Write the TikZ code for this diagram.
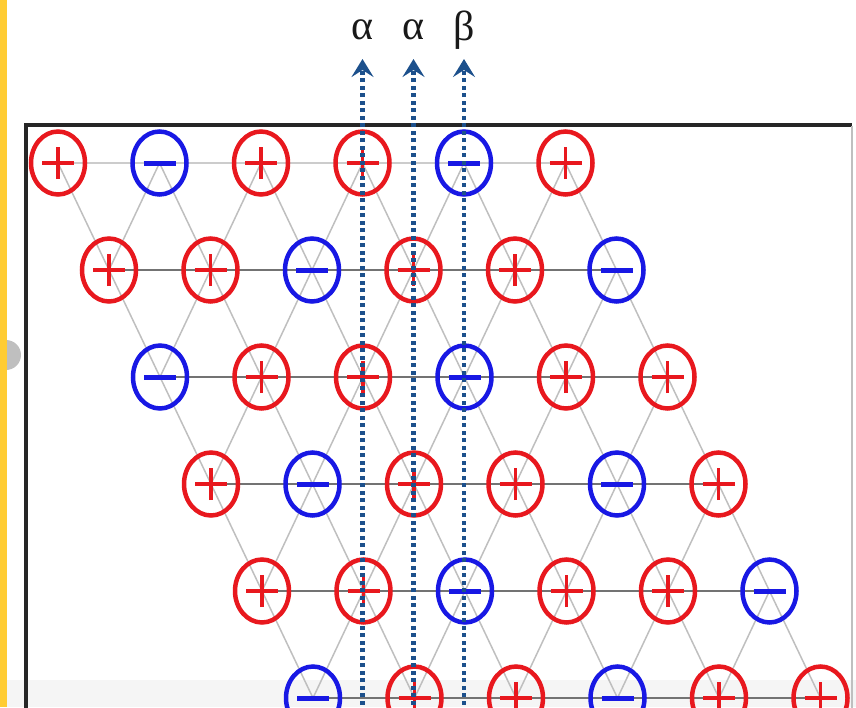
\documentclass[tikz,border=0pt]{standalone}
\usepackage{fontspec}
\setmainfont{Liberation Serif}
\usetikzlibrary{shapes.geometric,arrows.meta,backgrounds}
\definecolor{ionred}{RGB}{232,24,30}
\definecolor{ionblue}{RGB}{24,24,228}
\definecolor{beamblue}{RGB}{28,80,140}
\definecolor{tabyellow}{RGB}{255,204,51}
\tikzset{
  atom/.style={ellipse, line width=4.5pt, minimum width=54pt, minimum height=63pt, inner sep=0pt},
  atomp/.style={atom, draw=ionred,
    path picture={\draw[ionred, line width=3.8pt]
      ([xshift=-16pt]path picture bounding box.center) -- ([xshift=16pt]path picture bounding box.center)
      ([yshift=-16pt]path picture bounding box.center) -- ([yshift=16pt]path picture bounding box.center);}},
  atomm/.style={atom, draw=ionblue,
    path picture={\draw[ionblue, line width=5pt]
      ([xshift=-16pt]path picture bounding box.center) -- ([xshift=16pt]path picture bounding box.center);}},
  bond/.style={draw=black!25, line width=1.5pt},
  rowline/.style={draw=black!55, line width=2.2pt},
  beam/.style={draw=beamblue, line width=4.5pt, dash pattern=on 4pt off 3.5pt,
    -{Stealth[length=18pt,width=22pt,inset=7pt]}},
  greek/.style={font=\fontsize{42}{42}\selectfont, text=black!90, inner sep=0pt}
}
\begin{document}
\begin{tikzpicture}[x=1pt,y=-1pt]
\useasboundingbox (0,0) rectangle (856,707);
\clip (0,0) rectangle (856,707);

% lattice of ions, row by row
\foreach \r/\signs in {0/{p,m,p,p,m,p},1/{p,p,m,p,p,m},2/{m,p,p,m,p,p},
                       3/{p,m,p,p,m,p},4/{p,p,m,p,p,m},5/{m,p,p,m,p,p}}{
  \foreach \s [count=\c from 0] in \signs
    \node[atom\s] (n\r\c) at ({58+51*\r+101.5*\c},{163+107*\r}) {};
}

\begin{scope}[on background layer]
\fill[black!4] (6,680) rectangle (856,707);
\fill[black!25] (6,355) circle (15);
\fill[tabyellow] (0,0) rectangle (7,707);
% bonds
\foreach \r [evaluate=\r as \rn using int(\r+1)] in {0,...,4}{
  \foreach \c in {0,...,5}{
    \draw[bond] (n\r\c.center) -- (n\rn\c.center);
    \ifnum\c>0
      \pgfmathtruncatemacro{\cl}{\c-1}
      \draw[bond] (n\r\c.center) -- (n\rn\cl.center);
    \fi
  }
}
\draw[rowline, draw=black!20] (n00.center) -- (n05.center);
\foreach \r in {1,...,5}
  \draw[rowline] (n\r0.center) -- (n\r5.center);
\end{scope}

% frame
\draw[black!85, line width=3.2pt] (852,125) -- (26,125) -- (26,710);
\draw[black!25, line width=2pt] (852,126) -- (852,710);

% beams leaving the crystal
\coordinate (foot) at (0,712);
\coordinate (tip) at (0,59);
\coordinate (lbl) at (0,30);
\draw[beam] (n03.center |- foot) -- (n03.center |- tip);
\draw[beam] (n13.center |- foot) -- (n13.center |- tip);
\draw[beam] (n04.center |- foot) -- (n04.center |- tip);
\node[greek] (ga1) at (n03.center |- lbl) {α};
\node[greek] (ga2) at (n13.center |- lbl) {α};
\node[greek] (gb) at (n04.center |- lbl) {β};
\end{tikzpicture}
\end{document}
